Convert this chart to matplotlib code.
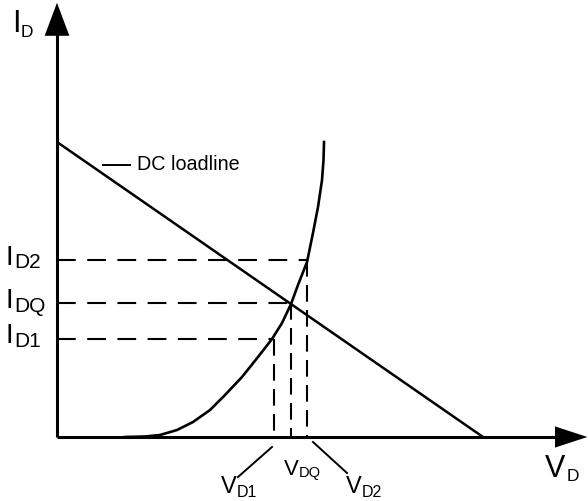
import matplotlib
matplotlib.use("Agg")
import matplotlib.pyplot as plt
from matplotlib.lines import Line2D

plt.rcParams['font.family'] = ['Liberation Sans', 'DejaVu Sans']

# ---- data (arbitrary units: loadline intercepts at V=10, I=10) ----
loadline_V = [0.0, 10.0]
loadline_I = [10.0, 0.0]

curve_V = [1.596, 2.066, 2.418, 2.817, 3.192, 3.592, 3.944, 4.343, 4.718, 5.047,
           5.282, 5.493, 5.657, 5.869, 6.009, 6.127, 6.221, 6.256, 6.268]
curve_I = [0.000, 0.017, 0.068, 0.237, 0.508, 0.915, 1.424, 2.034, 2.712, 3.322,
           3.864, 4.508, 5.153, 5.932, 6.915, 7.797, 8.712, 9.390, 10.000]

op_V = [5.09, 5.49, 5.88]   # V_D1, V_DQ, V_D2
op_I = [3.31, 4.53, 6.00]   # I_D1, I_DQ, I_D2

W, H = 588, 501
fig = plt.figure(figsize=(W / 100, H / 100), dpi=100)
ax = fig.add_axes([0, 0, 1, 1])
ax.set_xlim(-57 / 42.6, (W - 57) / 42.6)
ax.set_ylim(-(H - 437) / 29.5, 437 / 29.5)
ax.axis('off')

# axes with arrows
ax.plot([0, 0], [0, 13.7], color='black', lw=2.2, solid_capstyle='butt')
ax.plot([0, 11.75], [0, 0], color='black', lw=2.2, solid_capstyle='butt')
ax.fill([-0.29, 0.0, 0.29], [13.6, 14.72, 13.6], color='black', lw=0)
ax.fill([11.69, 12.45, 11.69], [0.36, 0.0, -0.36], color='black', lw=0)

# loadline and diode curve
ax.plot(loadline_V, loadline_I, color='black', lw=1.8, solid_capstyle='butt')
ax.plot(curve_V, curve_I, color='black', lw=1.9, solid_joinstyle='round')

# dashed projections
for v, i in zip(op_V, op_I):
    ax.plot([0, v], [i, i], color='black', lw=1.5, dashes=(9, 5.5))
    ax.plot([v, v], [i, 0], color='black', lw=1.5, dashes=(8, 4))

# ---- labels (pixel positions) ----
def P(x, y):
    return x / W, 1 - y / H

def T(x, y, s, size):
    fig.text(*P(x, y), s, fontsize=size, ha='left', va='baseline', color='black')

def L(x0, y0, x1, y1, lw=1.4):
    fig.add_artist(Line2D([x0 / W, x1 / W], [1 - y0 / H, 1 - y1 / H],
                          transform=fig.transFigure, color='black', lw=lw))

# I_D axis label
T(12, 32, 'I', 22); T(21, 37, 'D', 12.5)
# V_D axis label
T(545, 477, 'V', 22); T(567, 481, 'D', 12.5)

# current levels
T(6, 265, 'I', 20); T(14, 268, 'D2', 15)
T(6, 308, 'I', 20); T(14, 312, 'DQ', 15)
T(6, 343, 'I', 20); T(14, 347, 'D1', 15)

# voltage levels
T(221, 493, 'V', 17); T(237, 497, 'D1', 11.5)
T(284, 475, 'V', 16); T(299, 477, 'DQ', 10.5)
T(346, 493, 'V', 17); T(362, 497, 'D2', 11.5)
L(272, 447, 238, 477)
L(313, 442, 347, 473)

# DC loadline label
L(103, 165, 130, 165)
fig.text(*P(137, 165), 'DC loadline', fontsize=14.2, ha='left', va='center')

fig.savefig('out.png', dpi=100)
